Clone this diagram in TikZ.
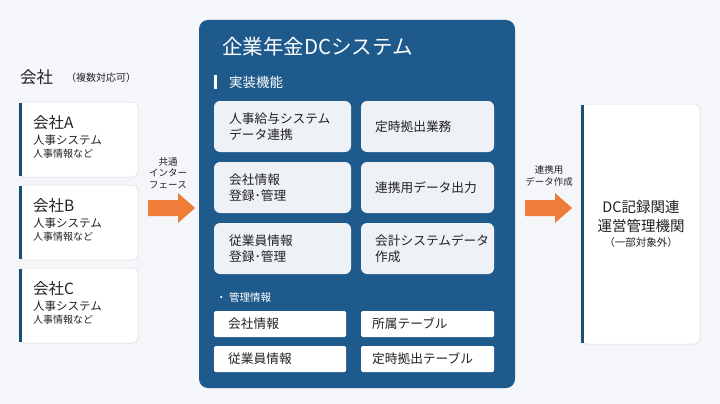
\documentclass[tikz,border=0pt]{standalone}
\usepackage{fontspec}
\setmainfont{Noto Sans CJK JP}
\usetikzlibrary{shapes.arrows}
\definecolor{bg}{HTML}{F4F6FA}
\definecolor{panel}{HTML}{1F5A8C}
\definecolor{fbox}{HTML}{EEF1F6}
\definecolor{bar}{HTML}{1B4F72}
\definecolor{org}{HTML}{EE7D3A}
\definecolor{txt}{HTML}{222222}
\begin{document}
\begin{tikzpicture}[x=1pt,y=-1pt,
 comp/.style={draw=black!15,fill=white,rounded corners=5,line width=0.5},
 func/.style={fill=fbox,rounded corners=6},
 mgmt/.style={fill=white,rounded corners=1.5},
 ftxt/.style={anchor=west,align=left,font=\fontsize{12.7}{16}\selectfont,text=txt,inner sep=0},
 arr/.style={fill=org,draw=none}]
\fill[bg] (0,0) rectangle (720,404);
\useasboundingbox (0,0) rectangle (720,404);
\node[anchor=west,text=txt,font=\fontsize{16.5}{18}\selectfont,inner sep=0] (kt) at (20,77) {会社};
\node[anchor=west,text=txt,font=\fontsize{10}{11}\selectfont,inner sep=0] (kn) at (66,78) {（複数対応可）};
\foreach \n/\y in {A/102,B/185,C/268}{
 \draw[comp] (19,\y) rectangle (138,\y+75);
 \fill[bar] (19,\y+1) rectangle (22,\y+74);
 \node[anchor=west,text=txt,font=\fontsize{15.5}{17}\selectfont,inner sep=0] (c\n) at (33,\y+21) {会社\n};
 \node[anchor=west,text=txt,font=\fontsize{11.5}{13}\selectfont,inner sep=0] (s\n) at (33,\y+38) {人事システム};
 \node[anchor=west,text=txt,font=\fontsize{10}{11}\selectfont,inner sep=0] (i\n) at (33,\y+52) {人事情報など};
}
\node[align=center,text=txt,font=\fontsize{9.5}{11.5}\selectfont,inner sep=0] (l1) at (168,173) {共通\\インター\\フェース};
\fill[arr] (148,200) -- (178,200) -- (178,193) -- (195,208) -- (178,223) -- (178,216) -- (148,216) -- cycle;
\fill[panel,rounded corners=9] (199,20) rectangle (515,388);
\node[anchor=west,text=white,font=\fontsize{20.5}{22}\selectfont,inner sep=0] (pt) at (222,47) {企業年金DCシステム};
\fill[white] (214,75) rectangle (217,89);
\node[anchor=west,text=white,font=\fontsize{13.5}{15}\selectfont,inner sep=0] (jk) at (229,82) {実装機能};
\fill[func] (214,101) rectangle (351,152); \node[ftxt] (f1) at (229,126.5) {人事給与システム\\データ連携};
\fill[func] (361,101) rectangle (494,152); \node[ftxt] (f2) at (375,126.5) {定時拠出業務};
\fill[func] (214,162) rectangle (351,213); \node[ftxt] (f3) at (229,187.5) {会社情報\\登録･管理};
\fill[func] (361,162) rectangle (494,213); \node[ftxt] (f4) at (375,187.5) {連携用データ出力};
\fill[func] (214,223) rectangle (351,274); \node[ftxt] (f5) at (229,248.5) {従業員情報\\登録･管理};
\fill[func] (361,223) rectangle (494,274); \node[ftxt] (f6) at (375,248.5) {会計システムデータ\\作成};
\node[anchor=west,text=white,font=\fontsize{10.5}{12}\selectfont,inner sep=0] (kj) at (216,297) {・ 管理情報};
\fill[mgmt] (214,311) rectangle (346,337); \node[ftxt] (m1) at (228,324) {会社情報};
\fill[mgmt] (361,311) rectangle (494,337); \node[ftxt] (m2) at (372,324) {所属テーブル};
\fill[mgmt] (214,346) rectangle (346,372); \node[ftxt] (m3) at (228,359) {従業員情報};
\fill[mgmt] (361,346) rectangle (494,372); \node[ftxt] (m4) at (372,359) {定時拠出テーブル};
\node[align=center,text=txt,font=\fontsize{9.5}{11.5}\selectfont,inner sep=0] (l2) at (549,176) {連携用\\データ作成};
\fill[arr] (525,200) -- (555,200) -- (555,193) -- (572,208) -- (555,223) -- (555,216) -- (525,216) -- cycle;
\draw[comp] (581,104) rectangle (700,344);
\fill[bar] (581,105) rectangle (584,343);
\node[align=center,text=txt,font=\fontsize{14.5}{19}\selectfont,inner sep=0] (dc) at (641,217) {DC記録関連\\運営管理機関};
\node[text=txt,font=\fontsize{10.5}{12}\selectfont,inner sep=0] (dn) at (641,243) {（一部対象外）};
\end{tikzpicture}
\end{document}
